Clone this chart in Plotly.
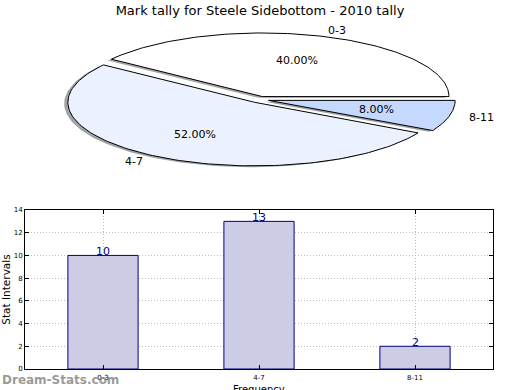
import numpy as np
import plotly.graph_objects as go

title = "Mark tally for Steele Sidebottom - 2010 tally"
categories = ["0-3", "4-7", "8-11"]
counts = [10, 13, 2]
pie_colors = ["#FFFFFF", "#EBF1FE", "#C5D8FE"]
explode = [0.05, 0.05, 0.05]
bar_fill = "#CCCCE6"
bar_edge = "#000080"

fig = go.Figure()

# ---- elliptical (squashed) exploded pie, built from the counts ----
total = float(sum(counts))
fracs = [c / total for c in counts]
start = 0.0
wedges = []
for lab, f, col, ex in zip(categories, fracs, pie_colors, explode):
    t1, t2 = start, start + f * 360.0
    mid = np.deg2rad((t1 + t2) / 2)
    dx, dy = ex * np.cos(mid), ex * np.sin(mid)
    th = np.deg2rad(np.linspace(t1, t2, 120))
    xs = np.concatenate([[0], np.cos(th), [0]]) + dx
    ys = np.concatenate([[0], np.sin(th), [0]]) + dy
    wedges.append((lab, f, col, xs, ys, mid, dx, dy))
    start = t2

def shade(hexcol):
    h = hexcol.lstrip("#")
    r, g, b = (int(h[i:i + 2], 16) for i in (0, 2, 4))
    return f"rgba({int(r*0.3)},{int(g*0.3)},{int(b*0.3)},0.5)"

for lab, f, col, xs, ys, mid, dx, dy in wedges:
    fig.add_trace(go.Scatter(x=xs - 0.02, y=ys - 0.02, mode="lines", fill="toself",
                             fillcolor=shade(col), line=dict(width=0),
                             xaxis="x2", yaxis="y2", hoverinfo="skip", showlegend=False))
for lab, f, col, xs, ys, mid, dx, dy in wedges:
    fig.add_trace(go.Scatter(x=xs, y=ys, mode="lines", fill="toself", fillcolor=col,
                             line=dict(color="#000000", width=1),
                             xaxis="x2", yaxis="y2", name=lab, showlegend=False))

ann = []
for lab, f, col, xs, ys, mid, dx, dy in wedges:
    lx, ly = 1.1 * np.cos(mid) + dx, 1.1 * np.sin(mid) + dy
    ann.append(dict(x=lx, y=ly, xref="x2", yref="y2", text=lab, showarrow=False,
                    xanchor="left" if lx > 0 else "right", yanchor="middle",
                    font=dict(size=11, color="#000000")))
    px, py = 0.6 * np.cos(mid) + dx, 0.6 * np.sin(mid) + dy
    ann.append(dict(x=px, y=py, xref="x2", yref="y2", text=f"{f*100:.2f}%", showarrow=False,
                    xanchor="center", yanchor="middle", font=dict(size=11, color="#000000")))

# ---- bar chart ----
fig.add_trace(go.Bar(x=categories, y=counts, width=0.45, marker=dict(color=bar_fill,
                     line=dict(color=bar_edge, width=1)),
                     xaxis="x", yaxis="y", showlegend=False))
for cat, c in zip(categories, counts):
    ann.append(dict(x=cat, y=c, xref="x", yref="y", text=str(c), showarrow=False,
                    xanchor="center", yanchor="bottom", yshift=-5,
                    font=dict(size=11, color=bar_edge)))

# x-axis title (partly cut off by the bottom edge, as in the original)
ann.append(dict(x=0.5, xref="x domain", y=(390 - 382) / 390, yref="paper", text="Frequency",
                showarrow=False, xanchor="center", yanchor="top",
                font=dict(size=10, color="#000000")))

ann.append(dict(x=0, y=(390 - 380) / 390, xref="paper", yref="paper", text="<b>Dream-Stats.com</b>",
                showarrow=False, xanchor="left", yanchor="middle",
                font=dict(size=12, color="rgba(120,120,120,0.75)")))

grid = dict(showgrid=True, gridcolor="#bdbdbd", griddash="1px,2px", gridwidth=1)

fig.update_layout(
    width=520, height=390, margin=dict(l=0, r=0, t=0, b=0, autoexpand=False),
    paper_bgcolor="white", plot_bgcolor="white",
    font=dict(family="DejaVu Sans", color="#000000"),
    title=dict(text=title, x=0.5, xanchor="center", y=1 - 10 / 390, yanchor="middle",
               font=dict(size=13)),
    annotations=ann,
    xaxis=dict(domain=[25 / 520, 493 / 520], range=[-0.5, 2.5], type="category",
               showline=True, linecolor="black", linewidth=1, mirror="ticks",
               ticks="inside", ticklen=4, tickcolor="black", **grid, ticklabelstandoff=2,
               tickfont=dict(size=7),
               anchor="y", zeroline=False, automargin=False),
    yaxis=dict(domain=[(390 - 369) / 390, (390 - 210) / 390], range=[0, 14], dtick=2,
               showline=True, linecolor="black", linewidth=1, mirror="ticks",
               ticks="inside", ticklen=4, tickcolor="black", **grid,
               tickfont=dict(size=7), title=dict(text="Stat Intervals", font=dict(size=10.5), standoff=4),
               anchor="x", zeroline=False, automargin=False),
    xaxis2=dict(domain=[0, 1], range=[-259.5 / 186.6, (520 - 259.5) / 186.6],
                visible=False, anchor="y2", fixedrange=True),
    yaxis2=dict(domain=[(390 - 200) / 390, 1], range=[(99.6 - 200) / 63.6, 99.6 / 63.6],
                visible=False, anchor="x2", fixedrange=True),
)

fig.write_html("out.html", config={"displayModeBar": False},
               post_script="document.body.style.margin='0px';document.body.style.overflow='hidden';")
